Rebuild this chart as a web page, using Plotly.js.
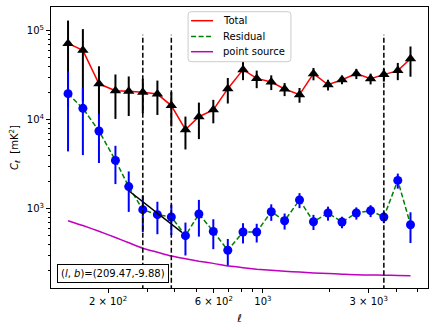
<!DOCTYPE html>
<html>
<head>
<meta charset="utf-8">
<script src="https://cdn.plot.ly/plotly-3.0.1.min.js"></script>
<style>html,body{margin:0;padding:0;background:#fff;}#chart{width:436px;height:330px;}</style>
</head>
<body>
<div id="chart"></div>
<script>
// multipole bins
const ell = [132,154,182,216,248,287,334,386,447,514,597,694,813,937,1090,1252,1462,1690,1966,2273,2638,3059,3511,4058,4630];
// total power spectrum and errors
const total = [71900,60100,25300,21200,20800,20300,19400,14400,7730,10800,12900,22300,36500,29100,26500,22100,19100,32900,24700,28100,32900,28900,32100,35600,48400];
const totalErr = [58000,44000,14500,11000,9800,8500,8100,6000,3100,4750,3800,7100,8700,6500,5000,3700,3600,5200,3400,3100,4300,4000,5300,7800,18000];
// residual power spectrum and errors
const residual = [19600,13400,7460,3490,1770,975,857,807,498,871,556,341,547,547,925,733,1254,714,894,708,894,950,807,2080,661];
const residualErr = [15200,9400,4200,1600,850,430,340,300,200,385,205,116,140,130,195,150,240,138,160,105,140,145,120,400,250];
// point source model
const pointSource = [733,646,558,474,414,360,324,294,274,257,243,228,217,209,203,198,194,190,187,184,181,180,179,178,177];
// fitted segment
const fitEll = [248,431];
const fitC = [1590,542];
// vertical markers
const vlineEll = [287,386,3511];
const vlineTop = 90000;
const vlineBottom = 100;
// ticks
const xTickVals = [200,600,1000,3000];
const xTickText = ['2 × 10<sup>2</sup>','6 × 10<sup>2</sup>','10<sup>3</sup>','3 × 10<sup>3</sup>'];
const xMinor = [300,400,500,700,800,900,2000,4000,5000];
const yTickVals = [1000,10000,100000];
const yTickText = ['10<sup>3</sup>','10<sup>4</sup>','10<sup>5</sup>'];
const yMinor = [200,300,400,500,600,700,800,900,2000,3000,4000,5000,6000,7000,8000,9000,20000,30000,40000,50000,60000,70000,80000,90000];
// legend entries
const legendNames = ['Total','Residual','point source'];
const legendColors = ['#ff0000','#008000','#bf00bf'];
const legendDash = ['solid','5px,2.5px','solid'];

const traces = [];
traces.push({x: ell, y: total, mode:'lines', line:{color:legendColors[0], width:1.5}, showlegend:false});
traces.push({x: ell, y: residual, mode:'lines', line:{color:legendColors[1], width:1.5, dash:legendDash[1]}, showlegend:false});
traces.push({x: ell, y: total, mode:'markers', marker:{symbol:'triangle-up', size:10, color:'black'},
  error_y:{type:'data', array: totalErr, visible:true, color:'black', thickness:2, width:0}, showlegend:false});
traces.push({x: ell, y: residual, mode:'markers', marker:{symbol:'circle', size:9, color:'#0000ff'},
  error_y:{type:'data', array: residualErr, visible:true, color:'#0000ff', thickness:2, width:0}, showlegend:false});
traces.push({x: ell, y: pointSource, mode:'lines', line:{color:legendColors[2], width:1.5, shape:'spline', smoothing:0.6}, showlegend:false});
traces.push({x: fitEll, y: fitC, mode:'lines', line:{color:'black', width:1.5}, showlegend:false});
vlineEll.forEach(v => {
  traces.push({x:[v,v], y:[vlineBottom, vlineTop], mode:'lines', line:{color:'black', width:1.5, dash:'5px,2.5px'}, showlegend:false});
});

// plot area in pixels (for placing the hand-built legend)
const L = 50.7, R = 428.3, T = 7.3, B = 288.3;
const px = v => (v - L) / (R - L);
const py = v => 1 - (v - T) / (B - T);

const shapes = [];
const annotations = [];
// legend frame with rounded corners
{
  const x0 = px(188), x1 = px(291), y0 = py(62), y1 = py(12);
  const rx = 3 / (R - L), ry = 3 / (B - T);
  shapes.push({type:'path', xref:'paper', yref:'paper', layer:'above',
    path:`M${x0+rx},${y1} L${x1-rx},${y1} Q${x1},${y1} ${x1},${y1-ry} L${x1},${y0+ry} Q${x1},${y0} ${x1-rx},${y0} L${x0+rx},${y0} Q${x0},${y0} ${x0},${y0+ry} L${x0},${y1-ry} Q${x0},${y1} ${x0+rx},${y1} Z`,
    fillcolor:'rgba(255,255,255,0.8)', line:{color:'#cccccc', width:1}});
}
const legendY = [21, 36.7, 52];
legendNames.forEach((n, i) => {
  shapes.push({type:'line', xref:'paper', yref:'paper', layer:'above', x0:px(191), x1:px(213), y0:py(legendY[i]), y1:py(legendY[i]),
    line:{color:legendColors[i], width:1.5, dash: legendDash[i] === 'solid' ? 'solid' : '5px,2.5px'}});
  annotations.push({xref:'paper', yref:'paper', x:px(220.5), y:py(legendY[i]), xanchor:'left', yanchor:'middle', showarrow:false,
    text:n, font:{size:10, color:'black'}});
});
annotations.push({xref:'paper', yref:'paper', x:0.1637, y:0.0527, xanchor:'center', yanchor:'middle', showarrow:false,
    text:'(<i>l</i>, <i>b</i>)=(209.47,-9.88)', font:{size:10}, bordercolor:'black', borderwidth:1, borderpad:3, bgcolor:'white'});

const layout = {
  width:436, height:330,
  margin:{l:L, r:436-R, t:T, b:330-B},
  paper_bgcolor:'white', plot_bgcolor:'white',
  font:{family:'DejaVu Sans', size:10, color:'black'},
  showlegend:false,
  xaxis:{type:'log', range:[2.0437, 3.7446], showgrid:false, zeroline:false, showline:true, linecolor:'black', linewidth:1, mirror:true,
    ticks:'outside', ticklen:4, tickwidth:1, tickcolor:'black', tickmode:'array', tickvals:xTickVals, ticktext:xTickText,
    minor:{tickmode:'array', tickvals:xMinor, ticks:'outside', ticklen:2.5, tickcolor:'black', showgrid:false},
    title:{text:'<i>ℓ</i>', font:{size:11}, standoff:8}, automargin:false},
  yaxis:{type:'log', range:[2.109, 5.266], showgrid:false, zeroline:false, showline:true, linecolor:'black', linewidth:1, mirror:true,
    ticks:'outside', ticklen:4, tickwidth:1, tickcolor:'black', tickmode:'array', tickvals:yTickVals, ticktext:yTickText,
    minor:{tickmode:'array', tickvals:yMinor, ticks:'outside', ticklen:2.5, tickcolor:'black', showgrid:false},
    title:{text:'<i>C</i><sub><i>ℓ</i></sub>  [mK<sup>2</sup>]', font:{size:10}, standoff:6}, automargin:false},
  shapes: shapes,
  annotations: annotations
};
Plotly.newPlot('chart', traces, layout, {displayModeBar:false, staticPlot:true});
</script>
</body>
</html>
